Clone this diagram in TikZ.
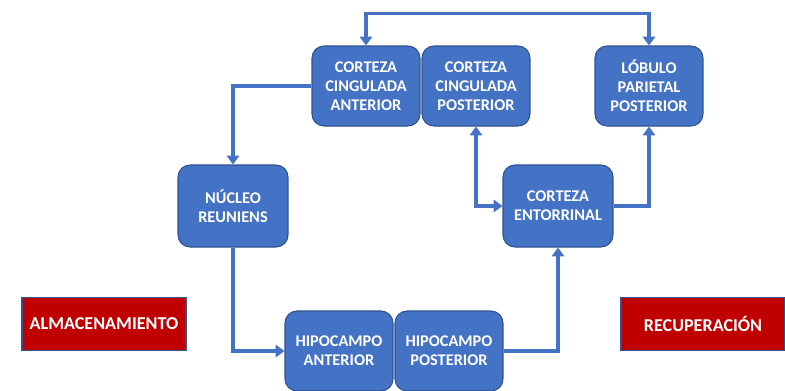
\documentclass[tikz,border=0pt]{standalone}
\usepackage{fontspec}
\setmainfont{Carlito}[BoldFont={Carlito Bold}]
\usetikzlibrary{arrows.meta}
\definecolor{azul}{HTML}{4472C4}
\definecolor{borde}{HTML}{2F528F}
\definecolor{rojo}{HTML}{C00000}
\begin{document}
\begin{tikzpicture}[x=0.02cm,y=-0.02cm]
    \tikzstyle{every node}=[font={\bfseries\fontsize{9.3}{10.8}\selectfont}, text=white, align=center]
    \tikzstyle{region}=[draw=borde, line width=0.6pt, fill=azul, rounded corners=0.24cm, minimum width=2.16cm, minimum height=1.6cm, inner sep=1pt]
    \tikzstyle{etapa}=[draw=borde, line width=0.6pt, fill=rojo, minimum width=3.28cm, minimum height=1.06cm, font={\bfseries\fontsize{10.3}{12}\selectfont}]
    \tikzstyle{flecha}=[draw=azul, line width=2pt, -{Triangle[width=7pt,length=5pt]}]
    \useasboundingbox (0,0) rectangle (785,390);
    \node[region] (CCA) at (366,86) {CORTEZA\\CINGULADA\\ANTERIOR};
    \node[region] (CCP) at (476,86) {CORTEZA\\CINGULADA\\POSTERIOR};
    \node[region] (LPP) at (649,86) {LÓBULO\\PARIETAL\\POSTERIOR};
    \node[region, minimum width=2.2cm, minimum height=1.64cm] (NR) at (233,206) {NÚCLEO\\REUNIENS};
    \node[region, minimum width=2.2cm, minimum height=1.64cm] (CE) at (558,206) {CORTEZA\\ENTORRINAL};
    \node[region] (HA) at (339,351) {HIPOCAMPO\\ANTERIOR};
    \node[region] (HP) at (449,351) {HIPOCAMPO\\POSTERIOR};
    \node[etapa] (alm) at (104,324) {ALMACENAMIENTO};
    \node[etapa] (rec) at (703,324) {RECUPERACIÓN};
    % conexiones
    \draw[flecha] (CCA.west) -| (NR.north);
    \draw[flecha] (NR.south) |- (HA.west);
    \draw[flecha] (HP.east) -| (CE.south);
    \draw[flecha] (CE.east) -| (LPP.south);
    \draw[flecha, {Triangle[width=7pt,length=5pt]}-{Triangle[width=7pt,length=5pt]}] (CCP.south) |- (CE.west);
    \draw[flecha, {Triangle[width=7pt,length=5pt]}-{Triangle[width=7pt,length=5pt]}] (CCA.north) -- ++(0,-32) -| (LPP.north);
\end{tikzpicture}
\end{document}
